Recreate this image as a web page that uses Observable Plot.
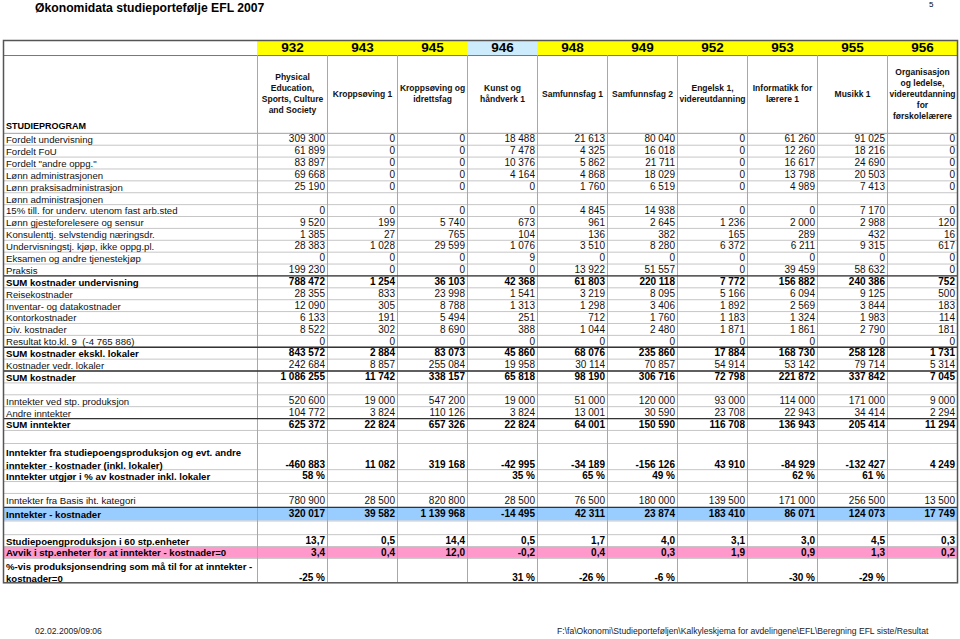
<!DOCTYPE html>
<html>
<head>
<meta charset="utf-8">
<script src="https://cdn.jsdelivr.net/npm/d3@7"></script>
<script src="https://cdn.jsdelivr.net/npm/@observablehq/plot@0.6"></script>
<style>
  html, body { margin: 0; padding: 0; background: #fff; }
  body { width: 960px; height: 639px; position: relative; overflow: hidden; font-family: "Liberation Sans", Arial, sans-serif; color: #000; }
  #head { position: relative; height: 38px; }
  #title { position: absolute; left: 35px; top: 0.5px; font-size: 12.2px; line-height: 15px; font-weight: bold; }
  #page { position: absolute; left: 929px; top: 0px; font-size: 8px; line-height: 10px; }
  #chart svg { display: block; }
  #foot { position: absolute; left: 0; top: 625px; width: 960px; height: 14px; font-size: 8.6px; line-height: 12px; color: #222; }
  #foot .l { position: absolute; left: 35px; }
  #foot .r { position: absolute; left: 557px; }
</style>
</head>
<body>
<div id="head"><div id="title">Økonomidata studieportefølje EFL 2007</div><div id="page">5</div></div>
<div id="chart"></div>
<div id="foot"><span class="l">02.02.2009/09:06</span><span class="r">F:\fa\Okonomi\Studieporteføljen\Kalkyleskjema for avdelingene\EFL\Beregning EFL siste/Resultat</span></div>
<script>
// ---------- DATA ----------
const codes = ["932", "943", "945", "946", "948", "949", "952", "953", "955", "956"];
const programNames = [
  "Physical\nEducation,\nSports, Culture\nand Society",
  "Kroppsøving 1",
  "Kroppsøving og\nidrettsfag",
  "Kunst og\nhåndverk 1",
  "Samfunnsfag 1",
  "Samfunnsfag 2",
  "Engelsk 1,\nvidereutdanning",
  "Informatikk for\nlærere 1",
  "Musikk 1",
  "Organisasjon\nog ledelse,\nvidereutdanning\nfor\nførskolelærere"
];
const headerLabel = "STUDIEPROGRAM";

const rowLabels = [
  "Fordelt undervisning",
  "Fordelt FoU",
  "Fordelt \"andre oppg.\"",
  "Lønn administrasjonen",
  "Lønn praksisadministrasjon",
  "Lønn administrasjonen",
  "15% till. for underv. utenom fast arb.sted",
  "Lønn gjesteforelesere og sensur",
  "Konsulenttj. selvstendig næringsdr.",
  "Undervisningstj. kjøp, ikke oppg.pl.",
  "Eksamen og andre tjenestekjøp",
  "Praksis",
  "SUM kostnader undervisning",
  "Reisekostnader",
  "Inventar- og datakostnader",
  "Kontorkostnader",
  "Div. kostnader",
  "Resultat kto.kl. 9 \u00a0(-4 765 886)",
  "SUM kostnader ekskl. lokaler",
  "Kostnader vedr. lokaler",
  "SUM kostnader",
  "",
  "Inntekter ved stp. produksjon",
  "Andre inntekter",
  "SUM inntekter",
  "",
  "Inntekter fra studiepoengsproduksjon og evt. andre\ninntekter - kostnader (inkl. lokaler)",
  "Inntekter utgjør i % av kostnader inkl. lokaler",
  "",
  "Inntekter fra Basis iht. kategori",
  "Inntekter - kostnader",
  "",
  "Studiepoengproduksjon i 60 stp.enheter",
  "Avvik i stp.enheter for at inntekter - kostnader=0",
  "%-vis produksjonsendring som må til for at inntekter -\nkostnader=0"
];

// value kind per row: n = whole number, d = one decimal, p = percent, null = empty row
const rowKinds = ["n","n","n","n","n",null,"n","n","n","n","n","n","n","n","n","n","n","n","n","n","n",null,"n","n","n",null,"n","p",null,"n","n",null,"d","d","p"];

const rowValues = [
  [309300, 0, 0, 18488, 21613, 80040, 0, 61260, 91025, 0],
  [61899, 0, 0, 7478, 4325, 16018, 0, 12260, 18216, 0],
  [83897, 0, 0, 10376, 5862, 21711, 0, 16617, 24690, 0],
  [69668, 0, 0, 4164, 4868, 18029, 0, 13798, 20503, 0],
  [25190, 0, 0, 0, 1760, 6519, 0, 4989, 7413, 0],
  null,
  [0, 0, 0, 0, 4845, 14938, 0, 0, 7170, 0],
  [9520, 199, 5740, 673, 961, 2645, 1236, 2000, 2988, 120],
  [1385, 27, 765, 104, 136, 382, 165, 289, 432, 16],
  [28383, 1028, 29599, 1076, 3510, 8280, 6372, 6211, 9315, 617],
  [0, 0, 0, 9, 0, 0, 0, 0, 0, 0],
  [199230, 0, 0, 0, 13922, 51557, 0, 39459, 58632, 0],
  [788472, 1254, 36103, 42368, 61803, 220118, 7772, 156882, 240386, 752],
  [28355, 833, 23998, 1541, 3219, 8095, 5166, 6094, 9125, 500],
  [12090, 305, 8788, 1313, 1298, 3406, 1892, 2569, 3844, 183],
  [6133, 191, 5494, 251, 712, 1760, 1183, 1324, 1983, 114],
  [8522, 302, 8690, 388, 1044, 2480, 1871, 1861, 2790, 181],
  [0, 0, 0, 0, 0, 0, 0, 0, 0, 0],
  [843572, 2884, 83073, 45860, 68076, 235860, 17884, 168730, 258128, 1731],
  [242684, 8857, 255084, 19958, 30114, 70857, 54914, 53142, 79714, 5314],
  [1086255, 11742, 338157, 65818, 98190, 306716, 72798, 221872, 337842, 7045],
  null,
  [520600, 19000, 547200, 19000, 51000, 120000, 93000, 114000, 171000, 9000],
  [104772, 3824, 110126, 3824, 13001, 30590, 23708, 22943, 34414, 2294],
  [625372, 22824, 657326, 22824, 64001, 150590, 116708, 136943, 205414, 11294],
  null,
  [-460883, 11082, 319168, -42995, -34189, -156126, 43910, -84929, -132427, 4249],
  [58, null, null, 35, 65, 49, null, 62, 61, null],
  null,
  [780900, 28500, 820800, 28500, 76500, 180000, 139500, 171000, 256500, 13500],
  [320017, 39582, 1139968, -14495, 42311, 23874, 183410, 86071, 124073, 17749],
  null,
  [13.7, 0.5, 14.4, 0.5, 1.7, 4.0, 3.1, 3.0, 4.5, 0.3],
  [3.4, 0.4, 12.0, -0.2, 0.4, 0.3, 1.9, 0.9, 1.3, 0.2],
  [-25, null, null, 31, -26, -6, null, -30, -29, null]
];

// ---------- STYLE / LAYOUT ----------
const boldRows = new Set([12, 18, 20, 24, 26, 27, 30, 32, 33, 34]);
const sumRuleRows = [12, 18, 20, 24, 30];
const highlightFill = {30: "#99ccff", 33: "#ff99cc"};

const LW = 254 / 70;           // label column width in column units
const NC = codes.length;
const XMAX = LW + NC;
const CODE_U = 1.264, NAME_U = 6.546, HEAD_U = CODE_U + NAME_U;
// row heights (in row units) that differ from the line count, as in the spreadsheet
const rowHeightOverride = {25: 1.1, 26: 2.2, 27: 1.0, 29: 1.18, 30: 1.14, 31: 1.15, 34: 2.05};

let acc = HEAD_U;
const rows = rowLabels.map((label, i) => {
  const n = label.split("\n").length;
  const h = rowHeightOverride[i] ?? n;
  const y1 = acc; acc += h;
  const base = n > 1 ? 0.42 : h / 2;  // text of multi-line rows sits at the bottom
  return {i, label, n, y1, y2: acc, yText: acc - base, bold: boldRows.has(i)};
});
const TOTAL_U = acc;
const LINE_U = 1.03;

const loc = d3.formatLocale({decimal: ",", thousands: " ", grouping: [3], currency: ["", ""], minus: "-"});
const fInt = loc.format(",d"), fDec = loc.format(",.1f");
const fmt = (v, k) => k === "d" ? fDec(v) : k === "p" ? fInt(v) + " %" : fInt(v);

const cells = rows.flatMap(r => {
  const vals = rowValues[r.i];
  if (!vals) return [];
  return vals.map((v, j) => v == null ? null : {
    x2: LW + j + 1, y: r.yText, text: fmt(v, rowKinds[r.i]), bold: r.bold
  }).filter(Boolean);
});
const labelY = r => r.yText - (r.n - 1) * LINE_U / 2;

const font = "'Liberation Sans', Arial, Helvetica, sans-serif";
const hlRows = rows.filter(r => highlightFill[r.i]);

const chart = Plot.plot({
  width: 960,
  height: 554,
  marginTop: 2,
  marginBottom: 9.7,
  marginLeft: 3,
  marginRight: 3,
  x: {type: "linear", domain: [0, XMAX], axis: null},
  y: {type: "linear", domain: [0, TOTAL_U], reverse: true, axis: null},
  style: {fontFamily: font, fontSize: "10px", background: "#fff", color: "#000"},
  marks: [
    // header code cells
    Plot.rect(codes.filter(c => c !== "946"), {x1: c => LW + codes.indexOf(c), x2: c => LW + codes.indexOf(c) + 1, y1: () => 0, y2: () => CODE_U, fill: "#ffff00"}),
    Plot.rect(codes.filter(c => c === "946"), {x1: c => LW + codes.indexOf(c), x2: c => LW + codes.indexOf(c) + 1, y1: () => 0, y2: () => CODE_U, fill: "#ccecfb"}),
    // highlighted rows
    Plot.rect(hlRows.filter(r => r.i === 30), {x1: () => 0, x2: () => XMAX, y1: "y1", y2: "y2", fill: highlightFill[30]}),
    Plot.rect(hlRows.filter(r => r.i === 33), {x1: () => 0, x2: () => XMAX, y1: "y1", y2: "y2", fill: highlightFill[33]}),
    // horizontal grid
    Plot.ruleY(rows.slice(1).map(r => r.y1), {y: d => d, x1: () => 0, x2: () => XMAX, stroke: "#c6c6c6", strokeWidth: 1}),
    Plot.ruleY([HEAD_U], {y: d => d, x1: () => 0, x2: () => XMAX, stroke: "#a0a0a0", strokeWidth: 1}),
    Plot.ruleY([CODE_U], {y: d => d, x1: () => 0, x2: () => XMAX, stroke: "#777", strokeWidth: 1}),
    // vertical grid
    Plot.ruleX(d3.range(NC), {x: j => LW + j, y1: () => CODE_U, y2: () => TOTAL_U, stroke: "#a8a8a8", strokeWidth: 1}),
    // thick lines above sums
    Plot.ruleY(sumRuleRows.map(i => rows[i].y1), {y: d => d, x1: () => 0, x2: () => XMAX, stroke: "#333", strokeWidth: 1.3}),
    // outer frame
    Plot.frame({stroke: "#555", strokeWidth: 1.5}),
    // header texts
    Plot.text(codes, {x: c => LW + codes.indexOf(c) + 0.5, y: () => CODE_U / 2, text: d => d, fontSize: 13.5, fontWeight: "bold", fill: "#000"}),
    Plot.text(programNames, {x: (d, i) => LW + i + 0.5, y: () => CODE_U + NAME_U / 2 - 0.1, text: d => d, fontSize: 8.5, fontWeight: "bold", lineHeight: 1.3, fill: "#111"}),
    Plot.text([headerLabel], {x: () => 0, y: () => HEAD_U - 0.6, text: d => d, dx: 2.5, textAnchor: "start", fontSize: 9, fontWeight: "bold", fill: "#000"}),
    // row labels
    Plot.text(rows.filter(r => r.label && !r.bold), {x: () => 0, y: labelY, text: "label", dx: 2.5, textAnchor: "start", fontSize: 9.6, lineHeight: 1.27, fill: "#111"}),
    Plot.text(rows.filter(r => r.label && r.bold), {x: () => 0, y: labelY, text: "label", dx: 2.5, textAnchor: "start", fontSize: 9.6, fontWeight: "bold", lineHeight: 1.27, fill: "#000"}),
    // values
    Plot.text(cells.filter(c => !c.bold), {x: "x2", y: "y", text: "text", dx: -2.5, textAnchor: "end", fontSize: 10, fill: "#111"}),
    Plot.text(cells.filter(c => c.bold), {x: "x2", y: "y", text: "text", dx: -2.5, textAnchor: "end", fontSize: 10, fontWeight: "bold", fill: "#000"})
  ]
});
document.getElementById("chart").appendChild(chart);
</script>
</body>
</html>
